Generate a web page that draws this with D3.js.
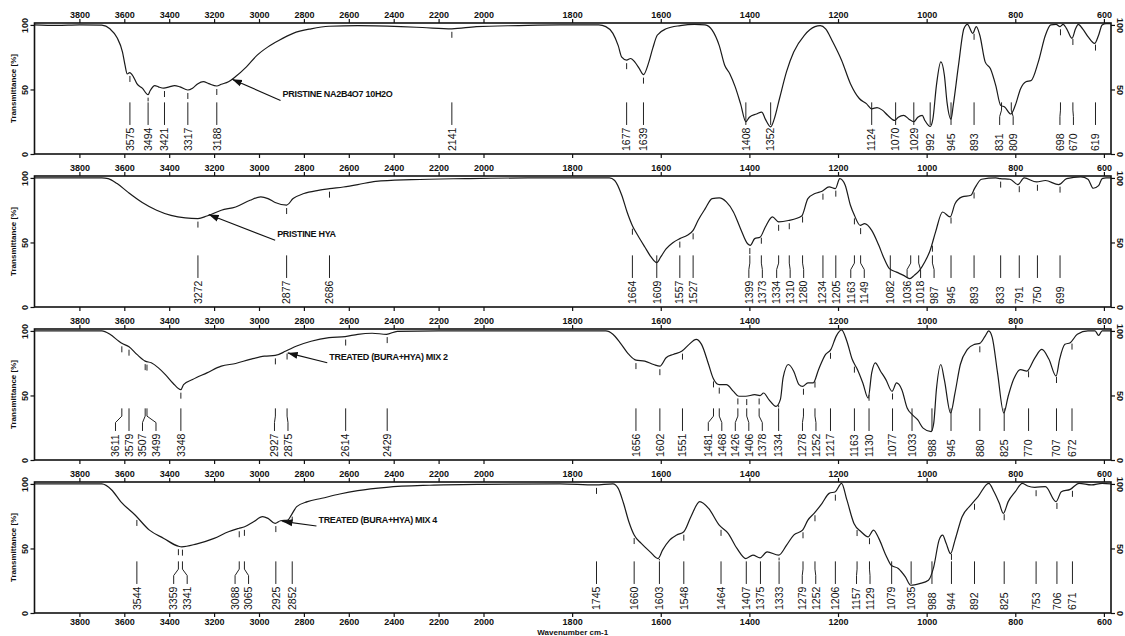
<!DOCTYPE html>
<html>
<head>
<meta charset="utf-8">
<script src="https://cdn.jsdelivr.net/npm/d3@7"></script>
<style>
  body { margin: 0; background: #fff; }
  svg { display: block; }
  text { font-family: "Liberation Sans", Arial, sans-serif; }
</style>
</head>
<body>
<div id="chart"></div>
<script>
// ---- spectra (wavenumber cm-1, transmittance %) ----
var p1Wn = [4000, 3900, 3800, 3700, 3664, 3632, 3608, 3597, 3587, 3576, 3560, 3544, 3520, 3494, 3485, 3464, 3448, 3424, 3400, 3376, 3352, 3317, 3296, 3272, 3248, 3224, 3188, 3168, 3136, 3104, 3056, 3008, 2960, 2912, 2848, 2768, 2688, 2560, 2368, 2272, 2141, 2032, 1920, 1828, 1740, 1724, 1708, 1696, 1688, 1677, 1668, 1658, 1648, 1639, 1628, 1618, 1608, 1588, 1556, 1524, 1500, 1484, 1468, 1456, 1444, 1432, 1420, 1408, 1400, 1384, 1372, 1364, 1352, 1344, 1332, 1316, 1300, 1276, 1252, 1240, 1228, 1212, 1192, 1172, 1152, 1136, 1124, 1112, 1100, 1088, 1072, 1064, 1052, 1040, 1029, 1020, 1010, 1004, 992, 986, 978, 968, 960, 954, 945, 940, 928, 916, 908, 896, 888, 880, 868, 856, 844, 833, 824, 810, 800, 788, 776, 764, 748, 732, 720, 708, 699, 692, 684, 672, 664, 658, 648, 636, 621, 612, 604, 595, 584];
var p1T = [100, 99.6, 100, 99.8, 97, 90, 79, 69, 62, 63, 60, 54.5, 51, 46, 49, 53, 52, 51, 52, 53, 52, 49.6, 51, 54.5, 56, 54.5, 52.7, 54, 56, 60, 67.5, 76.6, 83, 88, 93.5, 97, 99, 99.5, 98.7, 98, 97, 98.7, 99.5, 100, 100, 98.7, 93.5, 84, 75, 72.7, 74, 71, 66, 61.5, 70, 82, 92, 97, 99.5, 100.5, 100, 96, 84, 69, 62, 52, 39, 25, 28.5, 31, 32.5, 27, 21, 27, 43, 64, 79, 92, 98.7, 99.5, 97, 87, 72.7, 54.5, 43, 39, 35, 36, 34, 30, 26, 28.5, 30, 27, 25, 28.5, 30, 26, 21.3, 27, 53, 71.4, 61, 40, 27, 37.7, 69, 97, 100.5, 93.5, 98.7, 92, 71.4, 66, 53, 37.7, 36.4, 31, 37.7, 50.6, 56, 57, 71.4, 92, 100, 100.5, 98.7, 100.5, 97, 89.6, 97, 100.5, 97, 91, 85.7, 92, 100, 101, 101];

var p2Wn = [4000, 3700, 3672, 3632, 3584, 3520, 3456, 3392, 3328, 3272, 3232, 3168, 3104, 3040, 2992, 2960, 2928, 2877, 2848, 2800, 2736, 2686, 2624, 2560, 2480, 2320, 2080, 1900, 1828, 1716, 1704, 1688, 1676, 1664, 1652, 1636, 1622, 1609, 1600, 1588, 1572, 1557, 1540, 1527, 1516, 1500, 1484, 1468, 1452, 1436, 1420, 1404, 1398, 1388, 1376, 1364, 1348, 1334, 1312, 1282, 1268, 1252, 1236, 1220, 1206, 1196, 1184, 1172, 1163, 1150, 1140, 1124, 1108, 1096, 1084, 1068, 1052, 1038, 1028, 1016, 1004, 992, 980, 964, 947, 936, 920, 900, 892, 876, 844, 834, 812, 794, 780, 752, 732, 702, 684, 652, 636, 624, 612, 604, 595, 584];
var p2T = [100, 100, 99.5, 95.6, 89, 81, 75, 71, 69, 68.5, 70.5, 75, 77.5, 82.7, 85.3, 84, 81, 79, 84, 87.9, 90.4, 91.7, 93, 94.8, 97.4, 98.7, 99.5, 100, 100, 100, 98, 86.6, 73.6, 63, 55.6, 46.5, 38.8, 34.4, 38.8, 45, 50, 53, 55.6, 59.4, 67, 76, 84, 84.5, 81.4, 73.6, 60.7, 49, 47.8, 53, 54, 62, 69.8, 66, 67, 70.5, 84, 87.9, 89.7, 93, 91.7, 99.5, 94.6, 78.8, 71, 63.3, 64.6, 59.4, 47.8, 37.5, 29.7, 27, 24.5, 22, 24.5, 28.4, 35, 44, 58, 73.6, 69.8, 80, 85.3, 86.6, 91.7, 99, 100, 99.5, 99, 94.8, 100, 96.9, 98, 94.8, 99.5, 100.8, 99, 92, 94, 99.5, 100, 100];

var p3Wn = [4000, 3700, 3664, 3624, 3611, 3579, 3544, 3507, 3480, 3448, 3416, 3384, 3348, 3336, 3296, 3232, 3168, 3104, 3040, 2976, 2928, 2880, 2832, 2768, 2688, 2616, 2560, 2496, 2432, 2384, 2200, 1828, 1724, 1708, 1692, 1672, 1656, 1636, 1616, 1602, 1588, 1572, 1552, 1536, 1520, 1508, 1492, 1482, 1468, 1452, 1436, 1424, 1408, 1388, 1376, 1368, 1356, 1340, 1330, 1324, 1312, 1300, 1288, 1280, 1268, 1256, 1244, 1228, 1216, 1204, 1192, 1180, 1168, 1156, 1144, 1132, 1124, 1116, 1104, 1092, 1078, 1068, 1056, 1044, 1032, 1020, 1008, 990, 984, 978, 968, 960, 946, 936, 924, 908, 892, 880, 868, 860, 852, 840, 826, 816, 804, 788, 774, 756, 740, 724, 708, 700, 688, 676, 660, 636, 620, 612, 604, 595, 584];
var p3T = [100, 100, 97.4, 92, 90.4, 87.8, 81.8, 76.6, 75.3, 71.4, 66, 59.7, 54.5, 58.4, 62.3, 67.5, 72.7, 74.8, 78, 80.5, 81, 84.4, 88.3, 92, 94.8, 95.6, 97.4, 98.2, 97.4, 99.7, 100, 100, 100, 97.4, 91, 81.8, 77.4, 76.6, 74, 72.7, 79.2, 81.8, 84.4, 89.6, 93.5, 89.6, 74, 63.6, 58.4, 58.4, 53.2, 49.4, 49.4, 50.6, 49.9, 51.9, 46.8, 41.5, 47, 63.6, 74, 68.8, 58.4, 57.1, 59.7, 59.7, 70, 81.8, 85.7, 96, 100.8, 92, 78, 70, 59.7, 48, 67.5, 75.3, 68.8, 62.3, 53.2, 59.7, 54.5, 40.3, 35, 31, 24.7, 22, 28.6, 54.5, 74, 62, 36.4, 52, 74, 85.7, 89.6, 90.4, 96, 100, 95, 67.5, 36.4, 49.4, 62.3, 70, 68.8, 79, 85.7, 78, 65, 78, 89.6, 90.9, 97.4, 100, 100, 96.6, 100, 100, 100];

var p4Wn = [4000, 3700, 3656, 3616, 3552, 3488, 3424, 3360, 3344, 3280, 3200, 3136, 3091, 3064, 3024, 2984, 2960, 2928, 2904, 2872, 2856, 2832, 2784, 2720, 2640, 2560, 2432, 2240, 2000, 1828, 1748, 1708, 1696, 1684, 1672, 1660, 1644, 1624, 1606, 1596, 1580, 1564, 1548, 1532, 1512, 1492, 1468, 1448, 1428, 1408, 1392, 1376, 1360, 1334, 1316, 1300, 1280, 1268, 1254, 1236, 1220, 1206, 1192, 1180, 1164, 1148, 1132, 1120, 1108, 1092, 1080, 1064, 1048, 1036, 1016, 996, 984, 972, 964, 956, 946, 936, 920, 900, 884, 860, 848, 836, 827, 816, 800, 784, 772, 756, 732, 708, 696, 676, 656, 628, 604, 584];
var p4T = [100, 100, 95.3, 86.3, 75.9, 64.2, 57.8, 51.8, 51.3, 53.4, 57.8, 63, 65.5, 66.8, 70.7, 74.6, 73.3, 69.4, 71.5, 72, 75.9, 82.4, 86.3, 88.9, 92.2, 94.8, 97.4, 99, 99.7, 100, 99.2, 100, 96.6, 85, 70.7, 60.4, 53.9, 47.4, 42.2, 48.7, 56.5, 60.4, 63, 74.6, 86.3, 81, 68, 61.7, 50, 42.2, 44.8, 42.7, 47.4, 44.8, 52.6, 60.4, 64.2, 72, 77.2, 85, 92.7, 94, 100.5, 87.6, 69.4, 63, 59, 64.2, 57.8, 44.8, 37, 34.5, 28, 21.5, 22.8, 25.4, 35.8, 56.5, 60.4, 54, 46, 56.5, 74.6, 83.7, 90.2, 100.5, 94, 85, 77.2, 86.3, 94, 100.5, 98.4, 97.4, 97.9, 86.3, 94, 95.8, 100.5, 99.2, 100.5, 100];

// ---- picked peaks, as printed under each spectrum ----
var p1Peaks = [3575, 3494, 3421, 3317, 3188, 2141, 1677, 1639, 1408, 1352, 1124, 1070, 1029, 992, 945, 893, 831, 809, 698, 670, 619];
var p2Peaks = [3272, 2877, 2686, 1664, 1609, 1557, 1527, 1399, 1373, 1334, 1310, 1280, 1234, 1205, 1163, 1149, 1082, 1036, 1018, 987, 945, 893, 833, 791, 750, 699];
var p3Peaks = [3611, 3579, 3507, 3499, 3348, 2927, 2875, 2614, 2429, 1656, 1602, 1551, 1481, 1468, 1426, 1406, 1378, 1334, 1278, 1252, 1217, 1163, 1130, 1077, 1033, 988, 945, 880, 825, 770, 707, 672];
var p4Peaks = [3544, 3359, 3341, 3088, 3065, 2925, 2852, 1745, 1660, 1603, 1548, 1464, 1407, 1375, 1333, 1279, 1252, 1206, 1157, 1129, 1079, 1035, 988, 944, 892, 825, 753, 706, 671];

// ---- sample names and where their arrows point (wavenumber, %T) ----
var sampleNames = ['PRISTINE NA2B4O7 10H2O', 'PRISTINE HYA', 'TREATED (BURA+HYA) MIX 2', 'TREATED (BURA+HYA) MIX 4'];
var arrowTip = [[3120, 58], [3224, 71.6], [2872, 83], [2896, 71]];
var arrowTail = [[2904, 41.5], [2928, 51.7], [2696, 75.3], [2744, 67.4]];

var xTicks = [3800, 3600, 3400, 3200, 3000, 2800, 2600, 2400, 2200, 2000, 1800, 1600, 1400, 1200, 1000, 800, 600];
var yTicks = [0, 50, 100];
var yTitle = 'Transmittance [%]';
var xTitle = 'Wavenumber cm-1';

var panels = [
    { wn: p1Wn, t: p1T, peaks: p1Peaks },
    { wn: p2Wn, t: p2T, peaks: p2Peaks },
    { wn: p3Wn, t: p3T, peaks: p3Peaks },
    { wn: p4Wn, t: p4T, peaks: p4Peaks }
];

// ==========================================================
// svg setup
var svgWidth = 1125;
var svgHeight = 636;

var svg = d3.select('#chart')
    .append('svg')
    .attr('width', svgWidth)
    .attr('height', svgHeight);

svg.append('defs').append('marker')
    .attr('id', 'arrowhead')
    .attr('markerUnits', 'userSpaceOnUse')
    .attr('viewBox', '0 -4 10 8')
    .attr('refX', 10)
    .attr('refY', 0)
    .attr('markerWidth', 10)
    .attr('markerHeight', 8)
    .attr('orient', 'auto')
    .append('path')
    .attr('d', 'M0,-3.5L10,0L0,3.5Z')
    .attr('fill', '#111');

// the instrument axis is split: 4000-2000 is squeezed to half the scale
var x = d3.scaleLinear()
    .domain([4000, 2000, 584])
    .range([34.5, 483.5, 1111]);

var plotLeft = x(4000);
var plotRight = x(584);
var panelTop = [23, 176, 329, 482];
var panelH = 131;

var y = d3.scaleLinear()
    .domain([0, 101.5])
    .range([panelH, 0]);

// linear look-up of the curve at a wavenumber (for the little peak marks)
function valueAt(wns, ts, w) {
    for (var i = 0; i < wns.length - 1; i++) {
        if (wns[i] >= w && wns[i + 1] <= w) {
            var f = (wns[i] - w) / (wns[i] - wns[i + 1]);
            return ts[i] + f * (ts[i + 1] - ts[i]);
        }
    }
    return ts[ts.length - 1];
}

// push crowded peak labels apart, keeping each group centred
function spreadLabels(xs, gap) {
    var clusters = xs.map(v => ({ start: v, n: 1, sum: v }));
    var merged = true;
    while (merged) {
        merged = false;
        for (var i = 0; i < clusters.length - 1; i++) {
            var a = clusters[i], b = clusters[i + 1];
            if (a.start + a.n * gap > b.start + 0.01) {
                var n = a.n + b.n, sum = a.sum + b.sum;
                clusters.splice(i, 2, { n: n, sum: sum, start: sum / n - (n - 1) * gap / 2 });
                merged = true;
                break;
            }
        }
    }
    var out = [];
    clusters.forEach(c => {
        for (var k = 0; k < c.n; k++) out.push(c.start + k * gap);
    });
    return out;
}

var line = d3.line()
    .x(d => x(d[0]))
    .y(d => y(d[1]))
    .curve(d3.curveMonotoneX);

panels.forEach(function (p, i) {
    var g = svg.append('g')
        .attr('transform', `translate(0, ${panelTop[i]})`);

    // top axis with labels
    var topAxis = g.append('g')
        .call(d3.axisTop(x).tickValues(xTicks).tickSize(4).tickPadding(1).tickFormat(d3.format('d')));
    // bottom axis, labels only under the last panel
    var bottomAxis = g.append('g')
        .attr('transform', `translate(0, ${panelH})`)
        .call(d3.axisBottom(x).tickValues(xTicks).tickSize(4).tickPadding(2)
            .tickFormat(i === 3 ? d3.format('d') : ''));

    var leftAxis = g.append('g')
        .attr('transform', `translate(${plotLeft}, 0)`)
        .call(d3.axisLeft(y).tickValues(yTicks).tickSize(4));
    leftAxis.selectAll('text')
        .attr('transform', 'rotate(-90)')
        .attr('x', 0)
        .attr('y', -7)
        .attr('dy', 0)
        .attr('text-anchor', 'middle');

    var rightAxis = g.append('g')
        .attr('transform', `translate(${plotRight}, 0)`)
        .call(d3.axisRight(y).tickValues(yTicks).tickSize(4));
    rightAxis.selectAll('text')
        .attr('transform', 'rotate(90)')
        .attr('x', 0)
        .attr('y', -6)
        .attr('dy', 0)
        .attr('text-anchor', 'middle');

    [topAxis, bottomAxis, leftAxis, rightAxis].forEach(ax => {
        ax.select('.domain').remove();
        ax.selectAll('line').attr('stroke', '#111').attr('stroke-width', 1.2);
        ax.selectAll('text')
            .attr('font-family', '"Liberation Sans", Arial, sans-serif')
            .attr('font-size', 9)
            .attr('font-weight', 'bold')
            .attr('fill', '#111');
    });

    // frame
    g.append('rect')
        .attr('x', plotLeft)
        .attr('y', 0)
        .attr('width', plotRight - plotLeft)
        .attr('height', panelH)
        .attr('fill', 'none')
        .attr('stroke', '#111')
        .attr('stroke-width', 1.6);

    // y title
    g.append('text')
        .attr('transform', `translate(16, ${panelH / 2}) rotate(-90)`)
        .attr('text-anchor', 'middle')
        .attr('font-size', 8)
        .attr('font-weight', 'bold')
        .attr('fill', '#111')
        .text(yTitle);

    // spectrum
    var pts = p.wn.map((w, k) => [w, p.t[k]]);
    g.append('path')
        .datum(pts)
        .attr('d', line)
        .attr('fill', 'none')
        .attr('stroke', '#1a1a1a')
        .attr('stroke-width', 1.2);

    // peak marks, leaders and labels
    var peaks = p.peaks.slice().sort((a, b) => b - a);
    var want = peaks.map(w => x(w));
    var got = spreadLabels(want, 13.5);
    var yTop = y(40), yB1 = y(34), yB2 = y(29), yEnd = y(22.5);

    peaks.forEach(function (w, k) {
        var cx = want[k], lx = got[k];
        var cy = y(valueAt(p.wn, p.t, w));
        if (cy + 3 < yTop - 1) {
            g.append('line')
                .attr('x1', cx).attr('x2', cx)
                .attr('y1', cy + 3).attr('y2', Math.min(cy + 9, yTop - 1))
                .attr('stroke', '#222').attr('stroke-width', 1);
        }
        var d = Math.abs(lx - cx) < 0.5
            ? `M${cx},${yTop}V${yEnd}`
            : `M${cx},${yTop}V${yB1}L${lx},${yB2}V${yEnd}`;
        g.append('path')
            .attr('d', d)
            .attr('fill', 'none')
            .attr('stroke', '#222')
            .attr('stroke-width', 1);
        g.append('text')
            .attr('transform', `translate(${lx}, ${panelH - 3}) rotate(-90)`)
            .attr('dy', '0.36em')
            .attr('font-size', 10.5)
            .attr('fill', '#111')
            .text(w);
    });

    // sample name with arrow
    var tip = arrowTip[i], tail = arrowTail[i];
    g.append('line')
        .attr('x1', x(tail[0])).attr('y1', y(tail[1]))
        .attr('x2', x(tip[0])).attr('y2', y(tip[1]))
        .attr('stroke', '#111')
        .attr('stroke-width', 1.1)
        .attr('marker-end', 'url(#arrowhead)');
    g.append('text')
        .attr('x', x(tail[0]) + 2)
        .attr('y', y(tail[1]) - 3)
        .attr('font-size', 9)
        .attr('font-weight', 'bold')
        .attr('letter-spacing', -0.3)
        .attr('fill', '#111')
        .text(sampleNames[i]);
});

svg.append('text')
    .attr('x', (plotLeft + plotRight) / 2)
    .attr('y', 634.5)
    .attr('text-anchor', 'middle')
    .attr('font-size', 8)
    .attr('font-weight', 'bold')
    .attr('fill', '#111')
    .text(xTitle);
</script>
</body>
</html>
